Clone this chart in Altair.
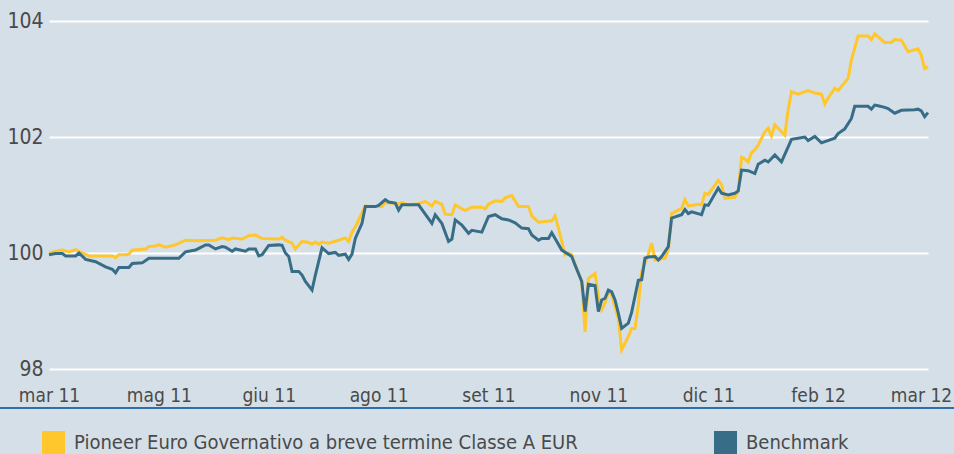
import altair as alt
import pandas as pd

# ---- data ----
mesi = ["mar 11", "mag 11", "giu 11", "ago 11", "set 11", "nov 11", "dic 11", "feb 12", "mar 12"]
passo = 33  # trading days between labels

fondo_nome = "Pioneer Euro Governativo a breve termine Classe A EUR"
bench_nome = "Benchmark"

fondo_giorno = [0, 2, 4, 6, 8, 10, 12, 19, 20, 21, 23, 24, 25, 29, 30, 32, 33, 35, 38, 41, 45, 50, 52, 54, 55, 58,
                60, 62, 64, 69, 70, 71, 73, 74, 76, 78, 79, 80, 81, 82, 84, 87, 89, 90, 91, 92, 95, 96, 100, 101,
                105, 106, 108, 111, 113, 115, 116, 118, 119, 121, 122, 125, 127, 130, 131, 132, 134, 136, 137, 139,
                141, 144, 145, 147, 150, 151, 152, 153, 154, 155, 156, 157, 159, 160, 161, 162, 164, 165, 166, 167,
                168, 169, 171, 172, 174, 175, 176, 177, 178, 180, 181, 182, 185, 186, 187, 190, 191, 192, 195, 196,
                197, 198, 201, 202, 203, 206, 207, 208, 209, 210, 211, 212, 213, 215, 216, 217, 218, 221, 222, 223,
                225, 228, 230, 232, 233, 234, 236, 237, 240, 241, 243, 246, 247, 248, 251, 253, 254, 256, 258, 261,
                262, 263, 264]
fondo_valore = [100.00, 100.03, 100.05, 100.02, 100.06, 100.00, 99.95, 99.95, 99.92, 99.97, 99.97, 99.98, 100.05,
                100.07, 100.11, 100.12, 100.14, 100.10, 100.14, 100.22, 100.21, 100.22, 100.26, 100.23, 100.26,
                100.24, 100.30, 100.31, 100.25, 100.24, 100.27, 100.22, 100.17, 100.07, 100.20, 100.18, 100.15,
                100.19, 100.15, 100.19, 100.17, 100.22, 100.26, 100.20, 100.36, 100.45, 100.81, 100.80, 100.80,
                100.87, 100.85, 100.87, 100.83, 100.85, 100.89, 100.81, 100.89, 100.84, 100.67, 100.66, 100.83,
                100.73, 100.79, 100.79, 100.76, 100.84, 100.90, 100.89, 100.95, 100.99, 100.80, 100.80, 100.64,
                100.53, 100.55, 100.55, 100.64, 100.43, 100.20, 99.97, 100.00, 99.97, 99.65, 99.51, 98.64, 99.56,
                99.65, 99.25, 99.02, 99.14, 99.33, 99.28, 98.87, 98.33, 98.56, 98.70, 98.70, 99.10, 99.68, 99.98,
                100.17, 99.88, 99.91, 100.05, 100.68, 100.77, 100.92, 100.81, 100.84, 100.83, 101.03, 101.01,
                101.25, 101.18, 100.94, 100.96, 101.07, 101.65, 101.62, 101.57, 101.73, 101.78, 101.86, 102.09,
                102.15, 102.02, 102.21, 102.03, 102.47, 102.78, 102.74, 102.80, 102.76, 102.74, 102.57, 102.67,
                102.84, 102.80, 103.01, 103.33, 103.74, 103.74, 103.68, 103.78, 103.63, 103.63, 103.68, 103.67,
                103.47, 103.52, 103.41, 103.18, 103.21]

bench_giorno = [0, 2, 4, 5, 8, 9, 11, 14, 17, 19, 20, 21, 24, 25, 28, 30, 35, 39, 41, 44, 45, 47, 48, 50, 52, 53,
                55, 56, 59, 60, 62, 63, 64, 66, 69, 70, 71, 72, 73, 75, 76, 77, 79, 80, 82, 84, 86, 87, 89, 90, 91,
                92, 94, 95, 98, 99, 101, 102, 104, 105, 106, 111, 115, 116, 118, 120, 121, 122, 124, 126, 127, 130,
                132, 134, 136, 138, 140, 142, 144, 145, 147, 148, 150, 151, 152, 154, 157, 158, 159, 160, 161, 162,
                164, 165, 166, 167, 168, 169, 170, 171, 172, 174, 175, 177, 178, 179, 180, 182, 183, 184, 186, 187,
                190, 191, 192, 193, 196, 197, 198, 201, 202, 204, 206, 207, 208, 210, 212, 213, 215, 216, 218, 220,
                222, 223, 225, 227, 228, 230, 232, 236, 237, 239, 241, 242, 246, 247, 248, 249, 251, 252, 254, 256,
                260, 261, 262, 263, 264]
bench_valore = [99.97, 99.99, 99.99, 99.95, 99.95, 100.00, 99.89, 99.85, 99.76, 99.72, 99.66, 99.75, 99.75, 99.82,
                99.83, 99.91, 99.91, 99.91, 100.02, 100.05, 100.08, 100.14, 100.14, 100.07, 100.11, 100.10, 100.03,
                100.07, 100.03, 100.07, 100.07, 99.95, 99.97, 100.13, 100.14, 100.13, 100.00, 99.94, 99.68, 99.68,
                99.62, 99.51, 99.36, 99.62, 100.09, 99.99, 100.01, 99.96, 99.98, 99.89, 99.98, 100.25, 100.51,
                100.80, 100.80, 100.82, 100.92, 100.88, 100.86, 100.74, 100.83, 100.83, 100.51, 100.66, 100.51,
                100.20, 100.24, 100.57, 100.48, 100.34, 100.39, 100.36, 100.63, 100.66, 100.59, 100.57, 100.52,
                100.43, 100.42, 100.31, 100.22, 100.25, 100.25, 100.35, 100.25, 100.05, 99.94, 99.79, 99.65, 99.51,
                98.99, 99.46, 99.44, 98.99, 99.19, 99.22, 99.36, 99.33, 99.19, 98.96, 98.70, 98.79, 98.98, 99.53,
                99.54, 99.91, 99.93, 99.94, 99.88, 99.94, 100.11, 100.60, 100.66, 100.75, 100.68, 100.71, 100.66,
                100.83, 100.82, 101.12, 101.03, 101.00, 101.03, 101.07, 101.43, 101.42, 101.37, 101.53, 101.60,
                101.57, 101.69, 101.57, 101.83, 101.96, 101.98, 102.00, 101.94, 102.01, 101.90, 101.98, 102.06,
                102.14, 102.32, 102.53, 102.53, 102.48, 102.55, 102.54, 102.51, 102.49, 102.41, 102.46, 102.47,
                102.48, 102.45, 102.35, 102.42]

y_ticks = [98, 100, 102, 104]

# ---- table ----
df = pd.concat([
    pd.DataFrame({"giorno": fondo_giorno, "valore": fondo_valore, "serie": fondo_nome}),
    pd.DataFrame({"giorno": bench_giorno, "valore": bench_valore, "serie": bench_nome}),
], ignore_index=True)
df["seq"] = range(len(df))

giallo = "#ffc72c"
blu = "#386d88"
testo = "#4a4a4a"
font = "Liberation Sans Narrow, DejaVu Sans Condensed, Roboto, sans-serif"

n_max = passo * (len(mesi) - 1)
label_expr = "[" + ",".join("'" + m + "'" for m in mesi) + "][round(datum.value / %d)]" % passo

x_enc = alt.X(
    "giorno:Q",
    scale=alt.Scale(domain=[0, n_max], nice=False, zero=False),
    axis=alt.Axis(
        values=[i * passo for i in range(len(mesi))],
        labelExpr=label_expr,
        grid=False, ticks=False, domain=False, title=None,
        labelFlush=False, labelOverlap=False,
        labelPadding=17, labelFontSize=19, labelColor=testo, labelFont=font,
        labelOffset={"condition": {"test": "datum.value == %d" % n_max, "value": -7}, "value": 0},
    ),
)
y_enc = alt.Y(
    "valore:Q",
    scale=alt.Scale(domain=[98, 104], nice=False, zero=False),
    axis=alt.Axis(
        values=y_ticks, grid=True, gridColor="white", gridWidth=2,
        ticks=False, domain=False, title=None,
        labelPadding=6, labelFontSize=21, labelColor=testo, labelFont=font,
    ),
)
color_enc = alt.Color(
    "serie:N",
    scale=alt.Scale(domain=[fondo_nome, bench_nome], range=[giallo, blu]),
    legend=alt.Legend(
        orient="none", legendX=-7, legendY=410, direction="horizontal", columns=2,
        title=None, padding=0, symbolType="square", symbolSize=9, symbolStrokeWidth=20,
        labelFontSize=20, labelColor=testo, labelFont=font, labelOffset=9,
        columnPadding=106, labelLimit=0,
    ),
)

base = alt.Chart(df)
linea_fondo = base.mark_line(strokeWidth=3).encode(
    x=x_enc, y=y_enc, color=color_enc, order="seq:Q"
).transform_filter(alt.datum.serie == fondo_nome)
linea_bench = base.mark_line(strokeWidth=3).encode(
    x=x_enc, y=y_enc, color=color_enc, order="seq:Q"
).transform_filter(alt.datum.serie == bench_nome)

separatore = alt.Chart(pd.DataFrame({"a": [0]})).mark_rule(color="#2f6ea8", strokeWidth=2).encode(
    x=alt.value(-49), x2=alt.value(905), y=alt.value(387)
)

chart = alt.layer(linea_fondo, linea_bench, separatore).properties(
    width=879, height=348,
    autosize=alt.AutoSizeParams(type="none"),
    padding={"left": 49, "top": 21, "right": 26, "bottom": 85},
    background="#d5dfe7",
).configure_view(stroke=None)

chart.save("out.html", embed_options={"renderer": "svg", "actions": False})
